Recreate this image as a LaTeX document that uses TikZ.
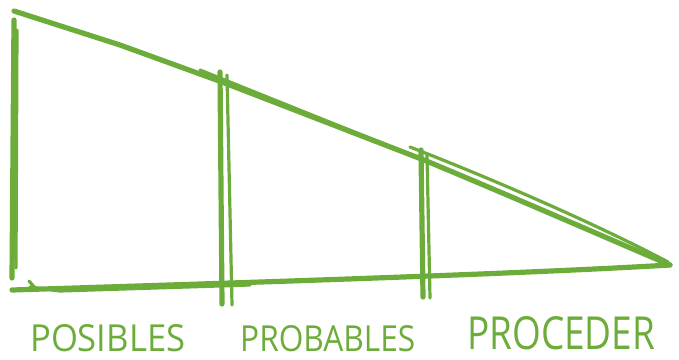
\documentclass[tikz,border=0pt]{standalone}
\usepackage{fontspec}
\usepackage{graphicx}
\newfontfamily\handfont{Open Sans}
\definecolor{sk}{RGB}{108,172,58}
\tikzset{
  thick line/.style={draw=sk, line width=5.2pt, line cap=round, line join=round},
  thin line/.style={draw=sk, line width=3.2pt, line cap=round, line join=round},
  label text/.style={inner sep=0pt, anchor=south west, text=sk}
}
\begin{document}
\begin{tikzpicture}[x=1pt,y=-1pt]
\useasboundingbox (0,0) rectangle (679,359);
% key points
\coordinate (tl) at (14,11);
\coordinate (bl) at (12,290);
\coordinate (tip) at (670,265);
\coordinate (m1) at (222,82);
\coordinate (m2) at (424,160);
% left side
\draw[thick line] (14,20) -- (12,278);
\draw[thin line] (17,30) -- (16,268);
% top slanted edge
\draw[thick line] (tl) -- (120,45) -- (m1) -- (m2) .. controls (520,200) and (600,235) .. (tip);
\draw[thin line] (200,70) -- (m2);
\draw[thin line] (410,147) .. controls (500,182) and (600,226) .. (668,262);
% bottom edge
\draw[thick line] (bl) .. controls (200,284) and (500,275) .. (tip);
\draw[thin line] (30,287) -- (60,291) -- (250,285);
\draw[thin line] (29,281) -- (36,289);
% verticals
\draw[thick line] (220,72) -- (222,304);
\draw[thin line] (227,75) -- (232,305);
\draw[thick line] (421,150) -- (423,297);
\draw[thin line] (427,155) -- (430,298);
% labels
\node[label text] (posibles) at (30,352) {\resizebox{155pt}{27pt}{\handfont POSIBLES}};
\node[label text] (probables) at (240,352) {\resizebox{175pt}{26pt}{\handfont PROBABLES}};
\node[label text] (proceder) at (467,350) {\resizebox{188pt}{33pt}{\handfont PROCEDER}};
\end{tikzpicture}
\end{document}
